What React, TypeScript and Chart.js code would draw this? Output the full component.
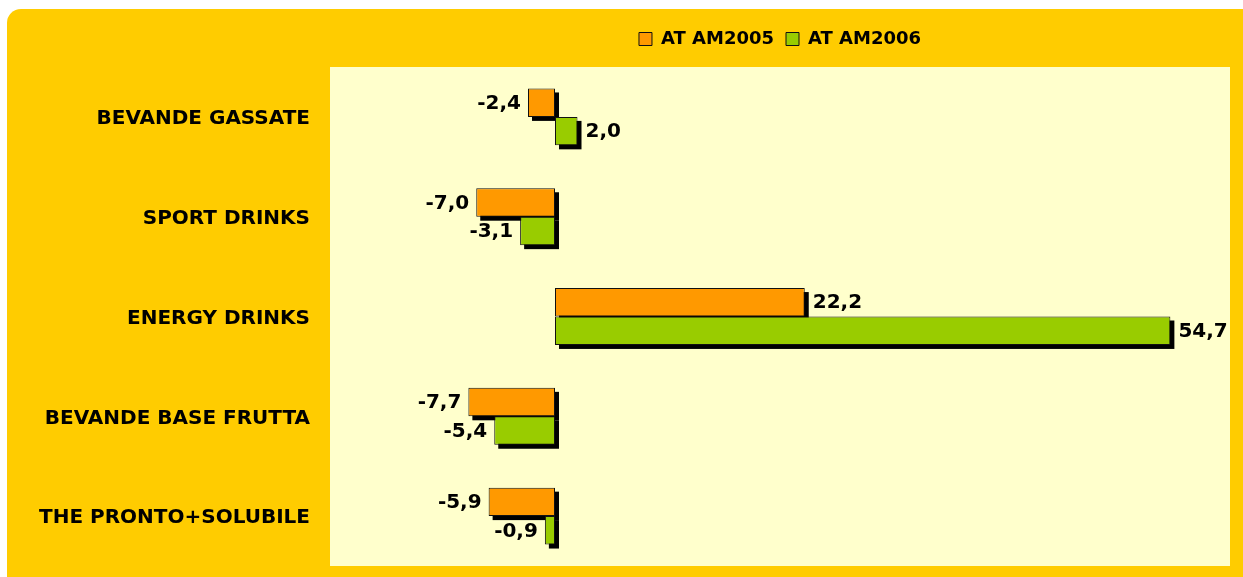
import React, { useEffect, useRef } from "react";
import { Chart, registerables } from "chart.js";

Chart.register(...registerables);

const categories = [
  "BEVANDE GASSATE",
  "SPORT DRINKS",
  "ENERGY DRINKS",
  "BEVANDE BASE FRUTTA",
  "THE PRONTO+SOLUBILE",
];
const seriesNames = ["AT AM2005", "AT AM2006"];
const values2005 = [-2.4, -7.0, 22.2, -7.7, -5.9];
const values2006 = [2.0, -3.1, 54.7, -5.4, -0.9];

const FONT = '"DejaVu Sans", Verdana, sans-serif';

const fmt = (v: number) => v.toFixed(1).replace(".", ",");

const framePlugin = {
  id: "frame",
  beforeInit(chart: any) {
    const lg = chart.legend;
    if (lg) {
      const orig = lg.fit.bind(lg);
      lg.fit = function () {
        orig();
        this.height = 49;
      };
    }
  },
  beforeDraw(chart: any) {
    const { ctx, chartArea } = chart;
    ctx.save();
    ctx.fillStyle = "#FFCC00";
    ctx.beginPath();
    (ctx as any).roundRect(7, 9, 1250, 590, 14);
    ctx.fill();
    ctx.fillStyle = "#FFFFCC";
    ctx.fillRect(
      chartArea.left,
      chartArea.top,
      chartArea.right - chartArea.left,
      chartArea.bottom - chartArea.top
    );
    ctx.restore();
  },
  beforeDatasetsDraw(chart: any) {
    const { ctx } = chart;
    ctx.save();
    ctx.fillStyle = "#000000";
    chart.data.datasets.forEach((_: any, di: number) => {
      const meta = chart.getDatasetMeta(di);
      meta.data.forEach((el: any) => {
        const { x, y, base, height } = el.getProps(["x", "y", "base", "height"], true);
        const left = Math.min(x, base);
        const w = Math.abs(x - base);
        ctx.fillRect(left + 4, y - height / 2 + 4, w, height);
      });
    });
    ctx.restore();
  },
  afterDatasetsDraw(chart: any) {
    const { ctx } = chart;
    ctx.save();
    ctx.font = `bold 20px ${FONT}`;
    ctx.fillStyle = "#000000";
    ctx.textBaseline = "middle";
    chart.data.datasets.forEach((ds: any, di: number) => {
      const meta = chart.getDatasetMeta(di);
      meta.data.forEach((el: any, i: number) => {
        const v = ds.data[i] as number;
        const { x, y } = el.getProps(["x", "y"], true);
        if (v >= 0) {
          ctx.textAlign = "left";
          ctx.fillText(fmt(v), x + 8, y + 1);
        } else {
          ctx.textAlign = "right";
          ctx.fillText(fmt(v), x - 7, y + 1);
        }
      });
    });
    ctx.restore();
  },
};

export default function App() {
  const ref = useRef<HTMLCanvasElement | null>(null);
  useEffect(() => {
    if (!ref.current) return;
    const chart = new Chart(ref.current, {
      type: "bar",
      data: {
        labels: categories,
        datasets: [
          {
            label: seriesNames[0],
            data: values2005,
            backgroundColor: "#FF9900",
            borderColor: "#111111",
            borderWidth: 1,
            borderSkipped: false,
          },
          {
            label: seriesNames[1],
            data: values2006,
            backgroundColor: "#99CC00",
            borderColor: "#111111",
            borderWidth: 1,
            borderSkipped: false,
          },
        ],
      },
      options: {
        indexAxis: "y",
        animation: false,
        responsive: false,
        devicePixelRatio: 1,
        layout: { padding: { top: 18, right: 13, bottom: 11, left: 0 } },
        datasets: {
          bar: { categoryPercentage: 0.57, barPercentage: 1 },
        },
        scales: {
          x: {
            display: false,
            min: -20,
            max: 60,
          },
          y: {
            afterFit(scale: any) {
              scale.width = 330;
            },
            grid: { display: false, drawTicks: true, tickLength: 20 },
            border: { display: false },
            ticks: {
              padding: 0,
              labelOffset: 2,
              color: "#000000",
              font: { family: FONT, size: 20, weight: "bold", lineHeight: 1 },
            },
          },
        },
        plugins: {
          legend: {
            display: true,
            position: "top",
            fullSize: false,
            labels: {
              boxWidth: 13,
              boxHeight: 13,
              padding: 12,
              color: "#000000",
              font: { family: FONT, size: 18, weight: "bold" },
            },
          },
          tooltip: { enabled: false },
        },
      } as any,
      plugins: [framePlugin],
    });
    return () => chart.destroy();
  }, []);
  return (
    <div style={{ position: "fixed", left: 0, top: 0, width: 1243, height: 577 }}>
      <canvas ref={ref} width={1243} height={577} style={{ width: 1243, height: 577, display: "block" }} />
    </div>
  );
}
